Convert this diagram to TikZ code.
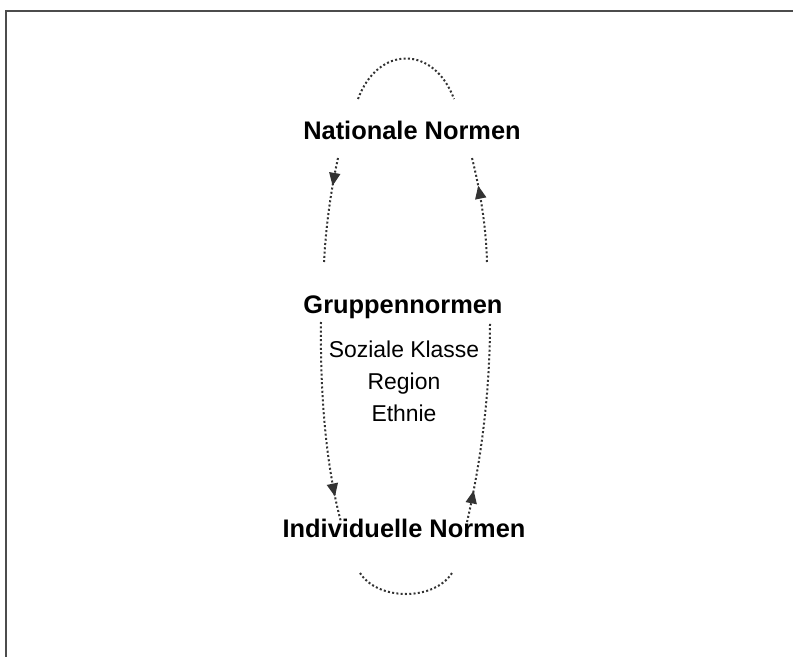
\documentclass[tikz,border=0pt]{standalone}
\usepackage{fontspec}
\setmainfont{Liberation Sans}
\usetikzlibrary{arrows.meta,decorations.markings}
\colorlet{nrmdark}{black!80}
\colorlet{nrmgray}{black!70}
\tikzset{
  nrmlevel/.style={font=\bfseries\fontsize{25.5}{29}\selectfont,inner sep=0pt,anchor=base},
  nrmitem/.style={font=\fontsize{23}{27}\selectfont,inner sep=0pt,anchor=base},
  nrmloop/.style={nrmdark,line width=2bp,dash pattern=on 2bp off 2.3bp},
  nrmtip/.style={nrmloop,postaction={decorate},
    decoration={markings,
      mark=at position #1 with {\arrow{Triangle[length=13bp,width=11bp]}}}},
  nrmframe/.style={nrmgray,line width=2bp}
}
\begin{document}
\begin{tikzpicture}[x=1bp,y=-1bp]
  \useasboundingbox (0,0) rectangle (793,657);
  \draw[nrmframe] (6,657) -- (6,11) -- (793,11);

  \node[nrmlevel] (nat) at (412,140) {Nationale Normen};
  \node[nrmlevel] (grp) at (403,313) {Gruppennormen};
  \node[nrmitem] (soz) at (404,357) {Soziale Klasse};
  \node[nrmitem] (reg) at (404,389) {Region};
  \node[nrmitem] (eth) at (404,421) {Ethnie};
  \node[nrmlevel] (ind) at (404,537) {Individuelle Normen};

  % loop ends above and below the levels
  \coordinate (topl) at (358,99);
  \coordinate (topr) at (454,99);
  \coordinate (nl) at (338,158);
  \coordinate (nr) at (472,158);
  \coordinate (gl) at (324,262);
  \coordinate (gr) at (487,262);
  \coordinate (kl) at (321,322);
  \coordinate (kr) at (490,322);
  \coordinate (il) at (341,522);
  \coordinate (ir) at (467,522);
  \coordinate (botl) at (360,573);
  \coordinate (botr) at (452,573);

  \draw[nrmloop] (topl) .. controls (378,45) and (434,45) .. (topr);
  \draw[nrmtip=0.27] (nl) .. controls (331,190) and (326,225) .. (gl);
  \draw[nrmtip=0.73] (gr) .. controls (486,225) and (480,190) .. (nr);
  \draw[nrmtip=0.87] (kl) .. controls (320,400) and (327,470) .. (il);
  \draw[nrmtip=0.16] (ir) .. controls (479,470) and (490,400) .. (kr);
  \draw[nrmloop] (botl) .. controls (378,601) and (434,601) .. (botr);
\end{tikzpicture}
\end{document}
